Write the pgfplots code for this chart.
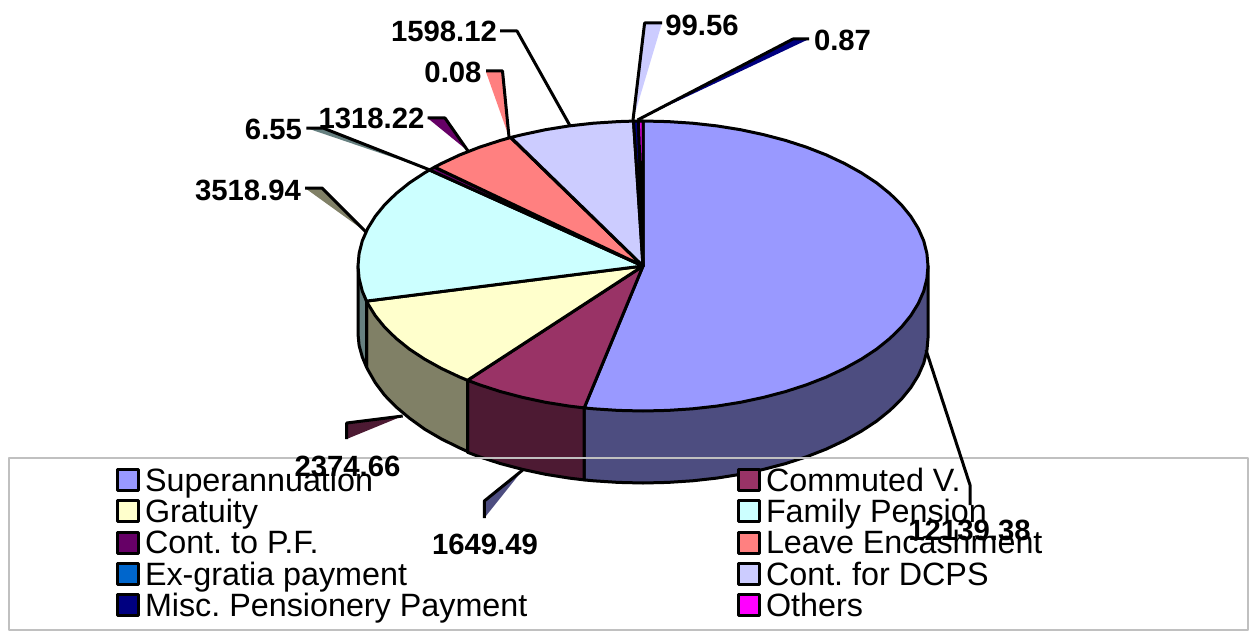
\documentclass[border=0pt]{standalone}
\usepackage{pgfplots}
\pgfplotsset{compat=1.18}
\usepackage{fontspec}
\setmainfont{Liberation Sans}
\frenchspacing
\definecolor{cSup}{HTML}{9999FF}
\definecolor{cCom}{HTML}{993366}
\definecolor{cGra}{HTML}{FFFFCC}
\definecolor{cFam}{HTML}{CCFFFF}
\definecolor{cPF}{HTML}{660066}
\definecolor{cLea}{HTML}{FF8080}
\definecolor{cExg}{HTML}{0066CC}
\definecolor{cDCP}{HTML}{CCCCFF}
\definecolor{cMis}{HTML}{000080}
\definecolor{cOth}{HTML}{FF00FF}
\definecolor{wSup}{HTML}{4D4D80}
\definecolor{wCom}{HTML}{4D1A33}
\definecolor{wGra}{HTML}{808066}
\definecolor{wFam}{HTML}{668080}
\newcommand{\lgd}{\fontsize{32.3bp}{32bp}\selectfont\frenchspacing}
\newcommand{\lbl}{\fontsize{29.3bp}{30bp}\selectfont\bfseries}
\begin{document}
\begin{tikzpicture}[every node/.style={inner sep=0pt, outer sep=0pt}]
\begin{axis}[
  scale only axis, width=1251bp, height=632bp,
  xmin=0, xmax=1251, ymin=0, ymax=632, y dir=reverse,
  hide axis, clip=true,
  every axis plot/.append style={line width=3bp, line join=round, mark=none},
]
% page background
\addplot[draw=none, fill=white] coordinates {(0,0)(1251,0)(1251,632)(0,632)} -- cycle;

% side walls
\addplot[fill=wSup, draw=black] coordinates {(928,266)(928,338)(926.9,350.6)(923.7,363.2)(918.3,375.5)(910.8,387.6)(901.3,399.3)(889.8,410.5)(876.5,421.2)(861.3,431.2)(844.5,440.5)(826.2,449.1)(806.5,456.8)(785.5,463.6)(763.4,469.4)(740.5,474.3)(716.8,478.1)(692.5,480.8)(667.9,482.4)(643,483)(618.1,482.4)(593.5,480.8)(584.2,479.9)(584.2,407.9)} -- cycle;
\addplot[fill=wCom, draw=black] coordinates {(584.2,407.9)(584.2,479.9)(569.2,478.1)(545.5,474.3)(522.6,469.4)(500.5,463.6)(479.5,456.8)(467.5,452.3)(467.5,380.3)} -- cycle;
\addplot[fill=wGra, draw=black] coordinates {(467.5,380.3)(467.5,451.5)(459.8,448)(441.5,439)(424.7,429.2)(409.5,418.2)(396.2,407)(384.7,395.3)(375.2,382.6)(367.7,369.5)(366.5,367.1)(366.5,301.1)} -- cycle;
\addplot[fill=wFam, draw=black] coordinates {(366.5,301.1)(366.5,367.1)(362.3,357)(359.1,345.5)(358,334)(358,266)} -- cycle;

% top surface slices
\addplot[fill=cSup, draw=black] coordinates {(643,266)(643,121)(667.9,121.6)(692.5,123.2)(716.8,125.9)(740.5,129.7)(763.4,134.6)(785.5,140.4)(806.5,147.2)(826.2,154.9)(844.5,163.5)(861.3,172.8)(876.5,182.8)(889.8,193.5)(901.3,204.7)(910.8,216.4)(918.3,228.5)(923.7,240.8)(926.9,253.4)(928,266)(926.9,278.6)(923.7,291.2)(918.3,303.5)(910.8,315.6)(901.3,327.3)(889.8,338.5)(876.5,349.2)(861.3,359.2)(844.5,368.5)(826.2,377.1)(806.5,384.8)(785.5,391.6)(763.4,397.4)(740.5,402.3)(716.8,406.1)(692.5,408.8)(667.9,410.4)(643,411)(618.1,410.4)(593.5,408.8)(584.2,407.9)} -- cycle;
\addplot[fill=cCom, draw=black] coordinates {(643,266)(584.2,407.9)(569.2,406.1)(545.5,402.3)(522.6,397.4)(500.5,391.6)(479.5,384.8)(467.5,380.3)} -- cycle;
\addplot[fill=cGra, draw=black] coordinates {(643,266)(467.5,380.3)(459.8,377.1)(441.5,368.5)(424.7,359.2)(409.5,349.2)(396.2,338.5)(384.7,327.3)(375.2,315.6)(367.7,303.5)(366.5,301.1)} -- cycle;
\addplot[fill=cFam, draw=black] coordinates {(643,266)(366.5,301.1)(362.3,291.2)(359.1,278.6)(358,266)(359.1,253.4)(362.3,240.8)(367.7,228.5)(375.2,216.4)(384.7,204.7)(396.2,193.5)(409.5,182.8)(424.7,172.8)(429.5,170)} -- cycle;
\addplot[fill=cPF, draw=black] coordinates {(643,266)(429.5,170)(434.6,167.1)} -- cycle;
\addplot[fill=cLea, draw=black] coordinates {(643,266)(434.6,167.1)(441.5,163.5)(459.8,154.9)(479.5,147.2)(500.5,140.4)(510.7,137.5)} -- cycle;
\addplot[fill=cExg, draw=black] coordinates {(643,266)(510.7,137.5)(510.9,137.4)} -- cycle;
\addplot[fill=cDCP, draw=black] coordinates {(643,266)(510.9,137.4)(522.6,134.6)(545.5,129.7)(569.2,125.9)(593.5,123.2)(618.1,121.6)(633.5,121.1)} -- cycle;
\addplot[fill=cMis, draw=black] coordinates {(643,266)(633.5,121.1)(638.5,121)} -- cycle;
\addplot[fill=cOth, draw=black] coordinates {(643,266)(638.5,121)(643,121)} -- cycle;

% legend frame
\addplot[draw={rgb,255:red,192;green,192;blue,192}, line width=2.5bp] coordinates {(9,458)(1248,458)(1248,630)(9,630)} -- cycle;

% legend swatches
\addplot[fill=cSup, draw=black] coordinates {(117,469)(138,469)(138,490)(117,490)} -- cycle;
\addplot[fill=cGra, draw=black] coordinates {(117,500.5)(138,500.5)(138,521.5)(117,521.5)} -- cycle;
\addplot[fill=cPF, draw=black] coordinates {(117,532)(138,532)(138,553)(117,553)} -- cycle;
\addplot[fill=cExg, draw=black] coordinates {(117,563)(138,563)(138,584)(117,584)} -- cycle;
\addplot[fill=cMis, draw=black] coordinates {(117,594.5)(138,594.5)(138,615.5)(117,615.5)} -- cycle;
\addplot[fill=cCom, draw=black] coordinates {(738,469)(759,469)(759,490)(738,490)} -- cycle;
\addplot[fill=cFam, draw=black] coordinates {(738,500.5)(759,500.5)(759,521.5)(738,521.5)} -- cycle;
\addplot[fill=cLea, draw=black] coordinates {(738,532)(759,532)(759,553)(738,553)} -- cycle;
\addplot[fill=cDCP, draw=black] coordinates {(738,563)(759,563)(759,584)(738,584)} -- cycle;
\addplot[fill=cOth, draw=black] coordinates {(738,594.5)(759,594.5)(759,615.5)(738,615.5)} -- cycle;

% leader ribbons
\addplot[fill=cDCP, draw=none] coordinates {(633,120)(644.6,23)(662,23)} -- cycle;
\addplot[draw=black] coordinates {(633,120)(644.6,23)(662,23)};
\addplot[fill=cMis, draw=none] coordinates {(637.5,120)(793,39)(809,39)} -- cycle;
\addplot[draw=black] coordinates {(637.5,120)(793,39)(809,39)};
\addplot[draw=black] coordinates {(500,31)(517,31)(569.6,125)};
\addplot[fill=cLea, draw=none] coordinates {(509,137)(486,72)(502.5,71)} -- cycle;
\addplot[draw=black] coordinates {(509,137)(502.5,71)(486,71)};
\addplot[fill=cPF, draw=none] coordinates {(468,151)(427.5,118)(445,118)} -- cycle;
\addplot[draw=black] coordinates {(468,151)(445,118)(427.5,118)};
\addplot[fill=wFam, draw=none] coordinates {(430,170)(306.4,128)(323,128)} -- cycle;
\addplot[draw=black] coordinates {(430,170)(323,128)(306.4,128)};
\addplot[fill=wGra, draw=none] coordinates {(366,232)(305,188)(322,188)} -- cycle;
\addplot[draw=black] coordinates {(366,232)(322,188)(305,188)};
\addplot[fill=wCom, draw=none] coordinates {(402.7,416)(346.7,423)(346.7,439)} -- cycle;
\addplot[draw=black] coordinates {(402.7,416)(346.7,423)(346.7,439)};
\addplot[fill=wSup, draw=none] coordinates {(522.7,470)(484.3,501)(484.3,518)} -- cycle;
\addplot[draw=black] coordinates {(522.7,470)(484.3,501)(484.3,518)};
\addplot[draw=black] coordinates {(926,350)(970,485)(970,505)};

% legend text
\node[anchor=base west] at (axis cs:145,491) {\lgd Superannuation};
\node[anchor=base west] at (axis cs:145,522.3) {\lgd Gratuity};
\node[anchor=base west] at (axis cs:145,553.6) {\lgd Cont. to P.F.};
\node[anchor=base west] at (axis cs:145,585) {\lgd Ex-gratia payment};
\node[anchor=base west] at (axis cs:145,616.2) {\lgd Misc. Pensionery Payment};
\node[anchor=base west] at (axis cs:766,491) {\lgd Commuted V.};
\node[anchor=base west] at (axis cs:766,522.3) {\lgd Family Pension};
\node[anchor=base west] at (axis cs:766,553.6) {\lgd Leave Encashment};
\node[anchor=base west] at (axis cs:766,585) {\lgd Cont. for DCPS};
\node[anchor=base west] at (axis cs:766,616.2) {\lgd Others};

% data labels
\node[anchor=base] at (axis cs:444,42) {\lbl 1598.12};
\node[anchor=base] at (axis cs:702,36) {\lbl 99.56};
\node[anchor=base] at (axis cs:842.5,51) {\lbl 0.87};
\node[anchor=base] at (axis cs:453,83) {\lbl 0.08};
\node[anchor=base] at (axis cs:371.5,128) {\lbl 1318.22};
\node[anchor=base] at (axis cs:273.5,139) {\lbl 6.55};
\node[anchor=base] at (axis cs:248,200) {\lbl 3518.94};
\node[anchor=base] at (axis cs:347.5,476) {\lbl 2374.66};
\node[anchor=base] at (axis cs:485,554) {\lbl 1649.49};
\node[anchor=base] at (axis cs:969.5,540) {\lbl 12139.38};
\end{axis}
\end{tikzpicture}
\end{document}
